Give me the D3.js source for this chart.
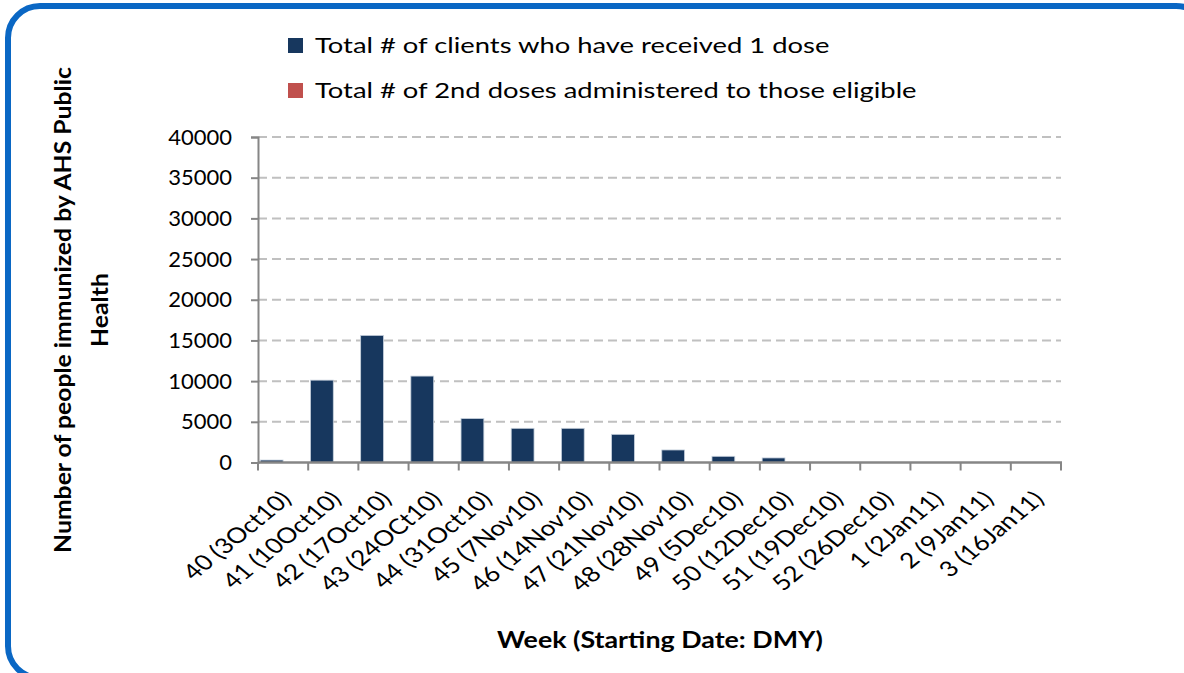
<!DOCTYPE html>
<html lang="en">
<head>
    <meta charset="UTF-8">
    <title>Immunizations by week</title>
    <style>
        body, html {
            margin: 0;
            padding: 0;
            background-color: #ffffff;
            overflow: hidden;
        }
        svg text {
            font-family: Lato, "Open Sans", sans-serif;
            fill: #000000;
        }
    </style>
</head>
<body>
    <svg id="svg" width="1184" height="673"></svg>
    <script src="https://d3js.org/d3.v7.min.js"></script>
    <script>
        // week labels along the x axis
        const weeks = [
            "40 (3Oct10)", "41 (10Oct10)", "42 (17Oct10)", "43 (24OCt10)",
            "44 (31Oct10)", "45 (7Nov10)", "46 (14Nov10)", "47 (21Nov10)",
            "48 (28Nov10)", "49 (5Dec10)", "50 (12Dec10)", "51 (19Dec10)",
            "52 (26Dec10)", "1 (2Jan11)", "2 (9Jan11)", "3 (16Jan11)"
        ]
        const firstDose = [300, 10120, 15620, 10620, 5400, 4200, 4200, 3460, 1540, 760, 560, 0, 0, 0, 0, 0]
        const secondDose = [0, 0, 0, 0, 0, 0, 0, 0, 0, 0, 0, 0, 0, 0, 0, 0]
        const seriesNames = [
            "Total # of clients who have received 1 dose",
            "Total # of 2nd doses administered to those eligible"
        ]
        const yTicks = [0, 5000, 10000, 15000, 20000, 25000, 30000, 35000, 40000]

        const colors = ["#17375e", "#c0504d"]
        const axisColor = "#868686"

        // the original picture is stretched sideways, so text is widened a bit
        const stretch = 1.22

        const svg = d3.select('#svg')

        // outer rounded frame
        svg.append('rect')
            .attr('x', 8).attr('y', 6)
            .attr('width', 1200).attr('height', 672)
            .attr('rx', 32)
            .attr('fill', 'none')
            .attr('stroke', '#0a67c4')
            .attr('stroke-width', 6)

        // scales
        const xscale = d3.scaleBand()
            .domain(weeks)
            .range([258, 1061])
            .padding(0)

        const inner = d3.scaleBand()
            .domain([0, 1])
            .range([0, xscale.bandwidth()])
            .paddingOuter(0.1)
            .paddingInner(0)

        const yscale = d3.scaleLinear()
            .domain([0, 40000])
            .range([462.5, 137])

        // dashed gridlines
        svg.append('g')
            .selectAll('line')
            .data(yTicks.filter(d => d > 0))
            .enter()
            .append('line')
            .attr('x1', 258).attr('x2', 1061)
            .attr('y1', d => yscale(d)).attr('y2', d => yscale(d))
            .attr('stroke', '#c0c0c0')
            .attr('stroke-width', 2)
            .attr('stroke-dasharray', '9,5')

        // bars, one group per series
        const series = [firstDose, secondDose]
        series.forEach((vals, s) => {
            svg.append('g')
                .selectAll('rect')
                .data(vals)
                .enter()
                .append('rect')
                .attr('x', (d, i) => xscale(weeks[i]) + inner(s))
                .attr('y', d => yscale(d))
                .attr('width', inner.bandwidth())
                .attr('height', d => yscale(0) - yscale(d))
                .attr('fill', colors[s])
                .attr('stroke', d => d > 0 ? '#c6d0dc' : 'none')
                .attr('stroke-width', 0.8)
        })

        // y axis
        const leftAxis = d3.axisLeft(yscale)
            .tickValues(yTicks)
            .tickSize(7)
            .tickPadding(19)
            .tickFormat(d3.format('d'))
        const yAxisG = svg.append('g')
            .attr('transform', 'translate(258, 0)')
            .call(leftAxis)
        yAxisG.select('.domain').attr('stroke', axisColor).attr('stroke-width', 2)
        yAxisG.selectAll('.tick line').attr('stroke', axisColor).attr('stroke-width', 2)
        yAxisG.selectAll('.tick text')
            .attr('font-size', '22px')
            .attr('font-family', 'Lato, sans-serif')
            .attr('fill', '#000')

        // x axis line and ticks at band edges
        svg.append('line')
            .attr('x1', 258).attr('x2', 1062)
            .attr('y1', yscale(0)).attr('y2', yscale(0))
            .attr('stroke', axisColor)
            .attr('stroke-width', 2.5)
        const edges = weeks.map(w => xscale(w)).concat([xscale.range()[1]])
        svg.append('g')
            .selectAll('line')
            .data(edges)
            .enter()
            .append('line')
            .attr('x1', d => d).attr('x2', d => d)
            .attr('y1', yscale(0)).attr('y2', yscale(0) + 8)
            .attr('stroke', axisColor)
            .attr('stroke-width', 2)

        // rotated week labels
        svg.append('g')
            .selectAll('text')
            .data(weeks)
            .enter()
            .append('text')
            .attr('transform', d => `translate(${xscale(d) + xscale.bandwidth() / 2 + 3}, 495) scale(${stretch}, 1) rotate(-45)`)
            .attr('text-anchor', 'end')
            .attr('dy', '0.35em')
            .attr('font-size', '21.5px')
            .text(d => d)

        // legend
        const legend = svg.append('g')
        seriesNames.forEach((name, i) => {
            const y0 = 38 + i * 45
            legend.append('rect')
                .attr('x', 288).attr('y', y0)
                .attr('width', 15).attr('height', 15)
                .attr('fill', colors[i])
            legend.append('text')
                .attr('transform', `translate(315, ${y0 + 15}) scale(1.245, 1)`)
                .attr('font-size', '22px')
                .text(name)
        })

        // axis titles
        svg.append('text')
            .attr('transform', `translate(660, 648) scale(${stretch}, 1)`)
            .attr('text-anchor', 'middle')
            .attr('font-size', '22px')
            .attr('font-weight', 'bold')
            .text('Week (Starting Date: DMY)')

        const yTitle = svg.append('text')
            .attr('transform', 'translate(0, 310) rotate(-90) scale(1.125, 1)')
            .attr('text-anchor', 'middle')
            .attr('font-size', '22px')
            .attr('font-weight', 'bold')
        yTitle.append('tspan').attr('x', 0).attr('y', 71).text('Number of people immunized by AHS Public')
        yTitle.append('tspan').attr('x', 0).attr('y', 108).text('Health')
    </script>
</body>
</html>
